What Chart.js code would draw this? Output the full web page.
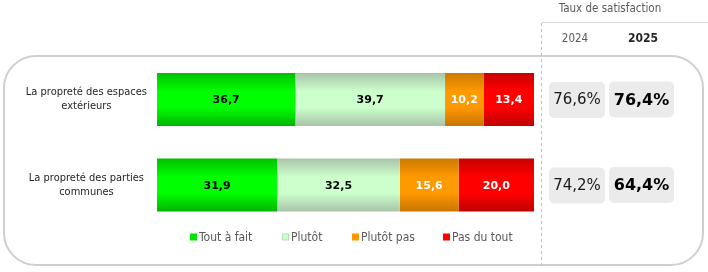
<!DOCTYPE html>
<html><head><meta charset="utf-8">
<script src="https://cdn.jsdelivr.net/npm/chart.js@4"></script>
<style>html,body{margin:0;padding:0;background:#fff;overflow:hidden}#wrap{position:relative;width:708px;height:272px}</style>
</head><body><div id="wrap"><canvas id="c" width="708" height="272"></canvas></div>
<script>
const categories = [["La propreté des espaces","extérieurs"],["La propreté des parties","communes"]];
const seriesNames = ["Tout à fait","Plutôt","Plutôt pas","Pas du tout"];
const toutAFait = [36.7, 31.9];
const plutot = [39.7, 32.5];
const plutotPas = [10.2, 15.6];
const pasDuTout = [13.4, 20.0];
const satisfactionTitle = "Taux de satisfaction";
const satisfactionYears = ["2024","2025"];
const satisfaction2024 = [76.6, 74.2];
const satisfaction2025 = [76.4, 64.4];

const COND = "'DejaVu Sans Condensed','Liberation Sans',sans-serif";
const VERD = "'DejaVu Sans',sans-serif";
const BAR_PCT = 0.62;

function grad(top, mid, bot){
  return (ctx) => {
    const ch = ctx.chart, ys = ch.scales.y, ca = ch.chartArea;
    if (!ys || !ca || ctx.dataIndex === undefined) return mid;
    const y = ys.getPixelForValue(ctx.dataIndex);
    const half = (ca.bottom - ca.top) / categories.length * BAR_PCT / 2;
    const g = ch.ctx.createLinearGradient(0, y - half, 0, y + half);
    g.addColorStop(0, top); g.addColorStop(0.35, mid); g.addColorStop(0.65, mid); g.addColorStop(1, bot);
    return g;
  };
}
const fmt = v => v.toFixed(1).replace('.', ',');

const deco = {
  id: 'deco',
  beforeDraw(chart){
    const c = chart.ctx;
    c.save();
    c.fillStyle = '#fff'; c.fillRect(0,0,chart.width,chart.height);
    // rounded frame
    c.strokeStyle = '#cfcfcf'; c.lineWidth = 2;
    c.beginPath(); c.roundRect(4, 56, 699, 209, 32); c.stroke();
    // header line
    c.strokeStyle = '#d9d9d9'; c.lineWidth = 1;
    c.beginPath(); c.moveTo(542, 22.5); c.lineTo(708, 22.5); c.stroke();
    // dashed separator
    c.strokeStyle = '#bfbfbf'; c.setLineDash([3,3]);
    c.beginPath(); c.moveTo(541.5, 23); c.lineTo(541.5, 268); c.stroke();
    c.setLineDash([]);
    // header texts
    c.textAlign = 'center'; c.textBaseline = 'middle';
    c.fillStyle = '#595959'; c.font = "11.5px " + COND;
    c.fillText(satisfactionTitle, 610, 9);
    c.fillText(satisfactionYears[0], 575, 39);
    c.fillStyle = '#262626'; c.font = "bold 12px " + COND;
    c.fillText(satisfactionYears[1], 643, 39);
    c.restore();
  },
  afterDatasetsDraw(chart){
    const c = chart.ctx;
    c.save();
    c.textAlign = 'center'; c.textBaseline = 'middle';
    c.font = "bold 11px " + VERD;
    chart.data.datasets.forEach((ds, di) => {
      const meta = chart.getDatasetMeta(di);
      c.fillStyle = di < 2 ? '#000' : '#fff';
      meta.data.forEach((el, i) => {
        const p = el.getProps(['x','y','base'], true);
        c.fillText(fmt(ds.data[i]), (p.x + p.base) / 2, p.y + 1);
      });
    });
    c.restore();
  },
  afterDraw(chart){
    const c = chart.ctx, ys = chart.scales.y;
    c.save();
    // legend
    const lx = [190, 282, 352, 443];
    const sw = ['#00e600','#ccffcc','#ff9900','#ff0000'];
    const sb = ['#00e600','#b8dcb8','#ff9900','#ff0000'];
    c.font = "12px " + COND; c.textBaseline = 'middle'; c.textAlign = 'left';
    chart.data.datasets.forEach((ds, di) => {
      c.fillStyle = sb[di]; c.fillRect(lx[di], 233.5, 7, 7);
      c.fillStyle = sw[di]; c.fillRect(lx[di]+1, 234.5, 5, 5);
      c.fillStyle = '#595959'; c.fillText(ds.label, lx[di] + 9, 237.5);
    });
    // satisfaction boxes
    categories.forEach((cat, i) => {
      const y = ys.getPixelForValue(i);
      c.fillStyle = '#ebebeb';
      c.beginPath(); c.roundRect(549, y - 17.5, 56, 36, 5); c.fill();
      c.beginPath(); c.roundRect(609, y - 18, 65, 36, 5); c.fill();
      c.textAlign = 'center'; c.textBaseline = 'middle';
      c.fillStyle = '#1a1a1a'; c.font = "15px " + VERD;
      c.fillText(fmt(satisfaction2024[i]) + '%', 577, y + 1);
      c.fillStyle = '#000'; c.font = "bold 16px " + VERD;
      c.fillText(fmt(satisfaction2025[i]) + '%', 641.5, y + 1);
    });
    c.restore();
  }
};

new Chart(document.getElementById('c'), {
  type: 'bar',
  data: {
    labels: categories,
    datasets: [
      { label: seriesNames[0], data: toutAFait, backgroundColor: grad('#00c000','#00ff00','#00b400') },
      { label: seriesNames[1], data: plutot, backgroundColor: grad('#a9c4a9','#ccffcc','#a9c4a9') },
      { label: seriesNames[2], data: plutotPas, backgroundColor: grad('#cc7a00','#ff9900','#c87400') },
      { label: seriesNames[3], data: pasDuTout, backgroundColor: grad('#c80000','#ff0000','#c00000') }
    ]
  },
  options: {
    indexAxis: 'y',
    responsive: false,
    animation: false,
    devicePixelRatio: 1,
    layout: { padding: { left: 0, right: 174, top: 56.75, bottom: 44.25 } },
    datasets: { bar: { barPercentage: BAR_PCT, categoryPercentage: 1, borderWidth: 0 } },
    scales: {
      x: { stacked: true, min: 0, max: 100, display: false },
      y: {
        stacked: true,
        grid: { display: false, drawTicks: false },
        border: { display: false },
        afterFit(s){ s.width = 157; },
        ticks: { crossAlign: 'center', padding: 10, color: '#262626',
                 font: { family: COND, size: 11, lineHeight: '14px' } }
      }
    },
    plugins: { legend: { display: false }, tooltip: { enabled: false } }
  },
  plugins: [deco]
});
</script></body></html>
